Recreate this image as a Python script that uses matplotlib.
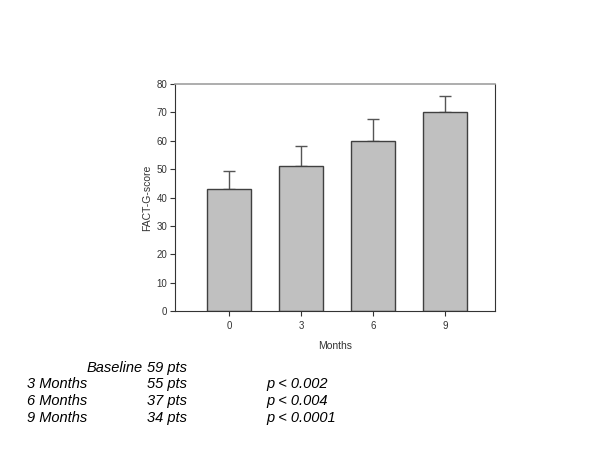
import matplotlib.pyplot as plt
import numpy as np

plt.rcParams['font.family'] = ['Liberation Sans', 'DejaVu Sans']

# data
months = ['0', '3', '6', '9']
scores = [43, 51, 60, 70]
errors = [6.2, 7, 7.5, 5.7]

table_rows = [
    ('Baseline', '59 pts', ''),
    ('3 Months', '55 pts', 'p < 0.002'),
    ('6 Months', '37 pts', 'p < 0.004'),
    ('9 Months', '34 pts', 'p < 0.0001'),
]

fig = plt.figure(figsize=(6, 4.5), dpi=100)
ax = fig.add_axes([175/600, 1-311/450, 320/600, 227/450])

x = np.arange(len(months))
ax.bar(x, scores, width=0.61, color='#c0c0c0', edgecolor='#404040', linewidth=1, zorder=2)
ax.errorbar(x, scores, yerr=[np.zeros(len(errors)), errors], fmt='none',
            ecolor='#555555', elinewidth=1, capsize=4, capthick=1, zorder=1)

ax.set_xlim(-0.75, 3.69)
ax.set_ylim(0, 80)
ax.set_xticks(x)
ax.set_xticklabels(months)
ax.set_yticks(range(0, 81, 10))
ax.tick_params(labelsize=7, colors='#333333', length=3.5, width=0.8)
ax.tick_params(axis='y', pad=2)
ax.tick_params(axis='x', pad=4)
ax.set_xlabel('Months', fontsize=7.5, color='#333333', labelpad=7)
ax.set_ylabel('FACT-G-score', fontsize=7.5, color='#333333', labelpad=3)
for s in ['left', 'bottom', 'right']:
    ax.spines[s].set_color('#333333')
    ax.spines[s].set_linewidth(0.8)
ax.spines['top'].set_color('#a0a0a0')
ax.spines['top'].set_linewidth(1.2)

# table under the chart
ys = [368, 384, 401, 418]
fs = 10.5
for (lab, pts, p), yy in zip(table_rows, ys):
    yf = 1 - yy/450
    if lab == 'Baseline':
        fig.text(143/600, yf, lab, ha='right', va='center', fontsize=fs, style='italic')
    else:
        fig.text(27/600, yf, lab, ha='left', va='center', fontsize=fs, style='italic')
    fig.text(187/600, yf, pts, ha='right', va='center', fontsize=fs, style='italic')
    if p:
        fig.text(266/600, yf, p, ha='left', va='center', fontsize=fs, style='italic')

fig.savefig('out.png', dpi=100)
